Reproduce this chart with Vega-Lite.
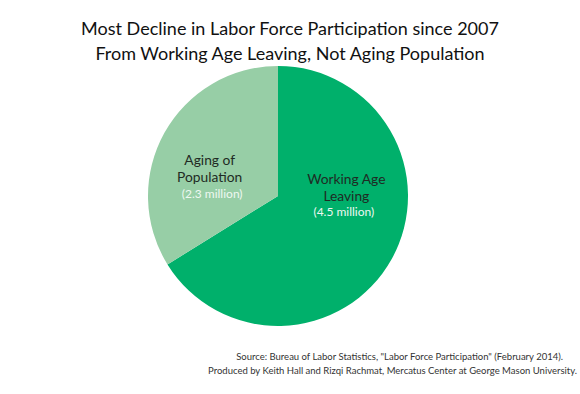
{
  "$schema": "https://vega.github.io/schema/vega-lite/v6.json",
  "width": 556,
  "height": 260,
  "autosize": {"type": "none"},
  "padding": {"top": 66, "left": 0, "right": 24, "bottom": 68},
  "background": "white",
  "config": {"view": {"stroke": null}},
  "title": {
    "text": ["Most Decline in Labor Force Participation since 2007", "From Working Age Leaving, Not Aging Population"],
    "font": "Lato",
    "fontSize": 18,
    "fontWeight": "normal",
    "color": "#111111",
    "lineHeight": 25,
    "anchor": "middle",
    "dx": 12,
    "offset": 2
  },
  "data": {
    "values": [
      {"category": "Working Age Leaving", "value": 4.5, "label": "Working Age\nLeaving", "sub": "(4.5 million)"},
      {"category": "Aging of Population", "value": 2.3, "label": "Aging of\nPopulation", "sub": "(2.3 million)"}
    ]
  },
  "resolve": {"scale": {"theta": "independent"}},
  "layer": [
    {
      "mark": {"type": "arc", "outerRadius": 130},
      "encoding": {
        "theta": {"field": "value", "type": "quantitative", "stack": true},
        "order": {"field": "category", "sort": "descending"},
        "color": {
          "field": "category",
          "type": "nominal",
          "scale": {"domain": ["Working Age Leaving", "Aging of Population"], "range": ["#00b06b", "#97cea6"]},
          "legend": null
        }
      }
    },
    {
      "mark": {"type": "text", "radius": 69, "dy": -25.5, "font": "Lato", "fontSize": 13.8, "lineHeight": 17, "lineBreak": "\n", "align": "center", "baseline": "middle", "color": "#1f2b24"},
      "encoding": {
        "theta": {"field": "value", "type": "quantitative", "stack": true, "scale": {"range": [-0.367, 5.916]}},
        "order": {"field": "category", "sort": "descending"},
        "detail": {"field": "category", "type": "nominal"},
        "text": {"field": "label", "type": "nominal"}
      }
    },
    {
      "mark": {"type": "text", "radius": 66.5, "dy": 7, "font": "Lato", "fontSize": 12, "align": "center", "baseline": "middle", "color": "#eef8f1"},
      "encoding": {
        "theta": {"field": "value", "type": "quantitative", "stack": true, "scale": {"range": [-0.367, 5.916]}},
        "order": {"field": "category", "sort": "descending"},
        "detail": {"field": "category", "type": "nominal"},
        "text": {"field": "sub", "type": "nominal"}
      }
    },
    {
      "data": {"values": [{}]},
      "mark": {"type": "text", "align": "right", "baseline": "middle", "dx": 7, "dy": 31, "font": "Lato", "fontSize": 9.5, "color": "#333333"},
      "encoding": {
        "x": {"value": "width"},
        "y": {"value": "height"},
        "text": {"value": "Source: Bureau of Labor Statistics, \"Labor Force Participation\" (February 2014)."}
      }
    },
    {
      "data": {"values": [{}]},
      "mark": {"type": "text", "align": "right", "baseline": "middle", "dx": 21, "dy": 45, "font": "Lato", "fontSize": 9.5, "color": "#333333"},
      "encoding": {
        "x": {"value": "width"},
        "y": {"value": "height"},
        "text": {"value": "Produced by Keith Hall and Rizqi Rachmat, Mercatus Center at George Mason University."}
      }
    }
  ]
}
